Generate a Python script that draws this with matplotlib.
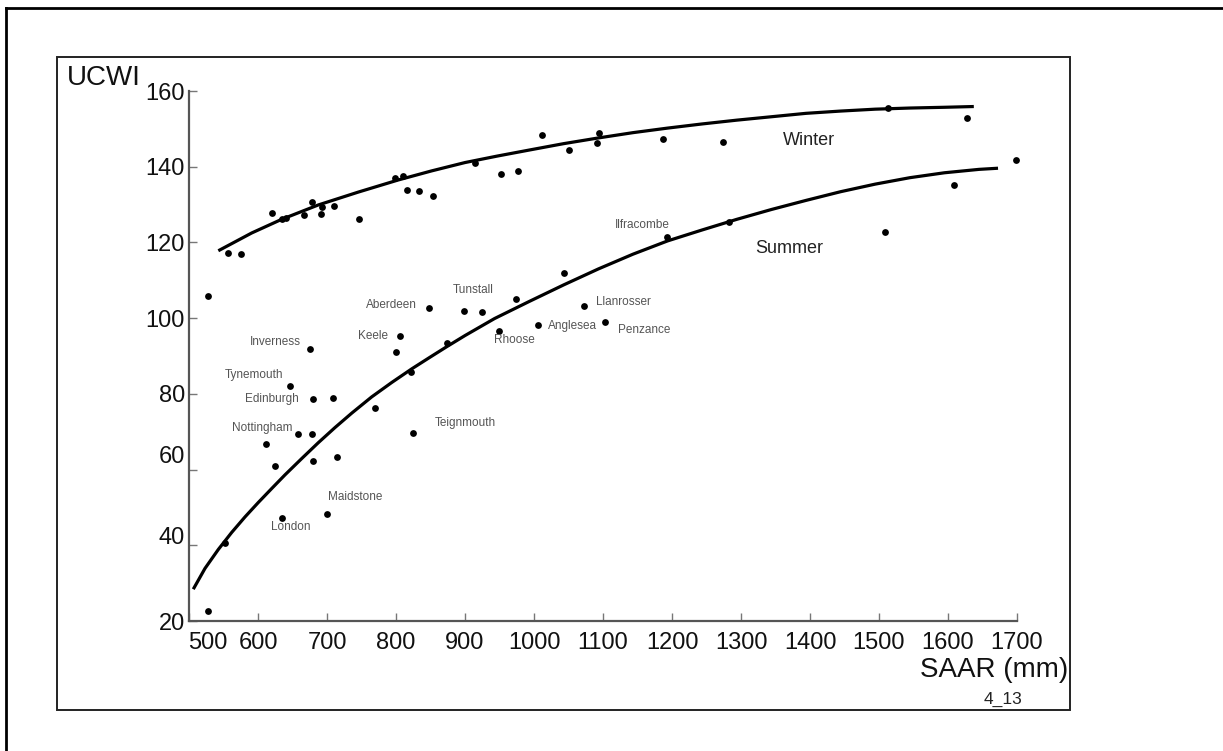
import matplotlib
matplotlib.use('Agg')
import matplotlib.pyplot as plt
import matplotlib.transforms as mtransforms
from matplotlib.patches import Rectangle
from matplotlib.lines import Line2D

# winter stations (SAAR mm, UCWI)
winter_saar = [557, 575, 620, 635, 641, 666, 678, 691, 693, 710, 747, 799, 810, 816, 834, 853,
               915, 952, 977, 1011, 1051, 1094, 1092, 1187, 1274, 1513, 1627]
winter_ucwi = [117.1, 116.9, 127.9, 126.1, 126.4, 127.2, 130.8, 127.4, 129.4, 129.7, 126.2, 136.9,
               137.6, 133.8, 133.6, 132.3, 141.1, 138.1, 138.9, 148.4, 144.4, 148.8, 146.2, 147.2,
               146.5, 155.6, 152.9]

# summer stations, some of them named
summer_saar = [527, 528, 552, 611, 625, 635, 647, 658, 678, 680, 680, 675, 709, 714, 700, 770, 800,
               806, 822, 824, 848, 874, 899, 925, 949, 974, 1006, 1044, 1072, 1103, 1193, 1283,
               1509, 1609, 1698]
summer_ucwi = [105.8, 22.6, 40.6, 66.8, 60.9, 47.3, 82.1, 69.3, 69.3, 78.6, 62.3, 91.8, 78.8, 63.3,
               48.3, 76.2, 91.0, 95.4, 85.7, 69.6, 102.6, 93.5, 101.9, 101.7, 96.6, 105.0, 98.2,
               111.9, 103.1, 98.9, 121.4, 125.5, 122.7, 135.3, 141.8]
summer_station = ['', '', '', '', '', 'London', 'Tynemouth', 'Nottingham', '', 'Edinburgh', '',
                  'Inverness', '', '', 'Maidstone', '', '', 'Keele', '', 'Teignmouth', 'Aberdeen',
                  '', 'Tunstall', '', 'Rhoose', '', 'Anglesea', '', 'Llanrosser', 'Penzance',
                  'Ilfracombe', '', '', '', '']

# fitted curves
winter_fit_saar = [542.5, 590.9, 634.3, 687.4, 745.4, 803.3, 851.7, 900.0, 946.4, 993.0, 1043.2,
                   1093.3, 1143.5, 1193.6, 1243.8, 1293.9, 1344.1, 1394.2, 1444.4, 1494.5, 1544.7,
                   1594.8, 1637.4]
winter_fit_ucwi = [117.8, 122.5, 126.1, 129.9, 133.3, 136.5, 138.9, 141.1, 142.8, 144.4, 146.1,
                   147.6, 149.0, 150.2, 151.3, 152.3, 153.2, 154.1, 154.7, 155.2, 155.5, 155.7,
                   155.9]
summer_fit_saar = [506.2, 523.2, 542.5, 561.9, 581.2, 600.4, 619.9, 639.1, 663.3, 687.4, 711.6,
                   735.8, 764.8, 793.8, 822.8, 848.6, 873.9, 900.0, 942.9, 993.0, 1043.2, 1093.3,
                   1143.5, 1193.6, 1243.8, 1293.9, 1344.1, 1394.2, 1444.4, 1494.5, 1544.7, 1594.8,
                   1645.0, 1672.5]
summer_fit_ucwi = [28.4, 33.9, 38.9, 43.4, 47.5, 51.3, 55.0, 58.6, 62.9, 67.1, 71.1, 74.9, 79.2,
                   83.0, 86.6, 89.6, 92.5, 95.4, 99.9, 104.4, 108.8, 113.0, 116.9, 120.4, 123.3,
                   126.1, 128.7, 131.1, 133.4, 135.4, 137.1, 138.4, 139.3, 139.6]

x_ticks = [500, 600, 700, 800, 900, 1000, 1100, 1200, 1300, 1400, 1500, 1600, 1700]
y_ticks = [20, 40, 60, 80, 100, 120, 140, 160]

# label placement (offset in pixels from the dot, alignment)
label_offsets = {
    'Inverness': (-9, 7, 'right'),
    'Keele': (-12, 0, 'right'),
    'Aberdeen': (-12, 3, 'right'),
    'Tunstall': (9, 21, 'center'),
    'Ilfracombe': (-25, 12, 'center'),
    'Llanrosser': (12, 4, 'left'),
    'Anglesea': (10, -1, 'left'),
    'Penzance': (13, -8, 'left'),
    'Rhoose': (16, -9, 'center'),
    'Tynemouth': (-7, 11, 'right'),
    'Edinburgh': (-14, 0, 'right'),
    'Nottingham': (-6, 6, 'right'),
    'London': (9, -9, 'center'),
    'Maidstone': (1, 17, 'left'),
    'Teignmouth': (22, 10, 'left'),
}

plt.rcParams['font.family'] = ['Liberation Sans', 'DejaVu Sans']

W, H = 1223, 751
fig = plt.figure(figsize=(W / 100, H / 100), dpi=100)


def fx(px):
    return px / W


def fy(py):
    return 1 - py / H


#outer frame (only top and left are in view)
fig.lines.append(Line2D([fx(6), fx(6)], [fy(8), fy(760)], transform=fig.transFigure, color='black', lw=2))
fig.lines.append(Line2D([fx(6), fx(1230)], [fy(8), fy(8)], transform=fig.transFigure, color='black', lw=2))
#inner box
fig.patches.append(Rectangle((fx(57), fy(710)), fx(1070) - fx(57), fy(57) - fy(710), fill=False,
                             edgecolor='#222222', lw=1.4, transform=fig.transFigure))

ax = fig.add_axes([fx(189), fy(621), fx(1017) - fx(189), fy(91) - fy(621)])
ax.set_xlim(500, 1700)
ax.set_ylim(20, 160)
ax.patch.set_alpha(0)
for s in ['top', 'right']:
    ax.spines[s].set_visible(False)
for s in ['left', 'bottom']:
    ax.spines[s].set_color('#555555')
    ax.spines[s].set_linewidth(1.6)

ax.set_xticks(x_ticks, [str(t) for t in x_ticks])
ax.set_yticks(y_ticks, [str(t) for t in y_ticks])
ax.tick_params(direction='in', length=6, width=1, color='#777777', labelsize=17, labelcolor='#111111')
ax.tick_params(axis='x', pad=8)
ax.tick_params(axis='y', pad=3)

# the picture has a few labels nudged off their ticks
nudges_x = {'500': (19, 0)}
nudges_y = {'60': (0, 15), '40': (0, 10)}
for lab in ax.get_xticklabels():
    if lab.get_text() in nudges_x:
        dx, dy = nudges_x[lab.get_text()]
        lab.set_transform(lab.get_transform() + mtransforms.ScaledTranslation(dx / 100, dy / 100, fig.dpi_scale_trans))
for lab in ax.get_yticklabels():
    if lab.get_text() in nudges_y:
        dx, dy = nudges_y[lab.get_text()]
        lab.set_transform(lab.get_transform() + mtransforms.ScaledTranslation(dx / 100, dy / 100, fig.dpi_scale_trans))

#curves
ax.plot(winter_fit_saar, winter_fit_ucwi, color='black', lw=2.3, solid_joinstyle='round', solid_capstyle='butt', zorder=2)
ax.plot(summer_fit_saar, summer_fit_ucwi, color='black', lw=2.3, solid_joinstyle='round', solid_capstyle='butt', zorder=2)

#stations
ax.scatter(winter_saar, winter_ucwi, s=24, color='black', linewidths=0, zorder=3, clip_on=False)
ax.scatter(summer_saar, summer_ucwi, s=24, color='black', linewidths=0, zorder=3, clip_on=False)

for i in range(0, len(summer_station)):
    name = summer_station[i]
    if name == '':
        continue
    dx, dy, ha = label_offsets[name]
    ax.annotate(name, (summer_saar[i], summer_ucwi[i]), xytext=(dx, dy), textcoords='offset pixels',
                ha=ha, va='center', fontsize=8.5, color='#555555')

ax.text(1398, 147, 'Winter', ha='center', va='center', fontsize=13, color='#222222')
ax.text(1370, 118.3, 'Summer', ha='center', va='center', fontsize=13, color='#222222')

fig.text(fx(67), fy(78), 'UCWI', fontsize=20, ha='left', va='center', color='#111111')
fig.text(fx(1068), fy(670), 'SAAR (mm)', fontsize=20, ha='right', va='center', color='#111111')
fig.text(fx(1003), fy(699), '4_13', fontsize=12.5, ha='center', va='center', color='#222222')

fig.savefig('out.png', dpi=100)
